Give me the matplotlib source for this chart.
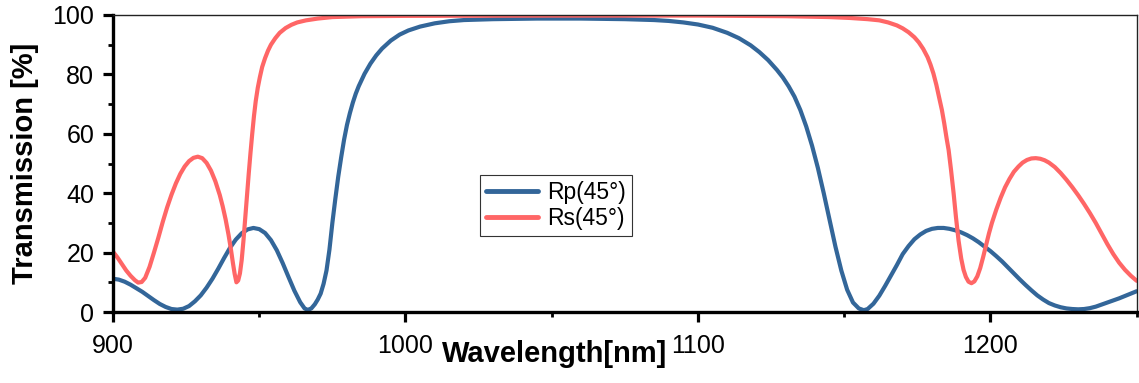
import matplotlib
matplotlib.use("Agg")
import matplotlib.pyplot as plt
from matplotlib.ticker import MultipleLocator

# ---- data ----
wl_p = [900, 902, 904, 906, 908, 910, 912, 914, 916, 918, 920, 922, 924, 926, 928,
        930, 932, 934, 936, 938, 940, 942, 944, 946, 948, 950, 952, 954, 956, 958,
        960, 962, 964, 965.5, 966.6, 967.8, 969, 970, 971, 972, 973, 974, 975, 976,
        977, 978, 979, 980, 981, 982, 983, 984, 986, 988, 990, 992, 995, 998, 1001,
        1005, 1010, 1015, 1020, 1030, 1045, 1060, 1075, 1085, 1090, 1095, 1100, 1105,
        1110, 1114, 1118, 1121, 1124, 1127, 1129, 1131, 1133, 1135, 1137, 1139, 1141,
        1143, 1145, 1147, 1149, 1151, 1153, 1155, 1156.7, 1158, 1160, 1162, 1164,
        1166, 1168, 1170, 1172, 1174, 1176, 1178, 1180, 1182, 1184, 1186, 1188, 1190,
        1192, 1194, 1196, 1198, 1200, 1202, 1204, 1206, 1208, 1210, 1212, 1214, 1216,
        1218, 1220, 1222, 1224, 1226, 1228, 1230, 1232, 1234, 1236, 1238, 1240, 1242,
        1244, 1246, 1248, 1250]
rp_45 = [11.2, 10.9, 10.2, 9.2, 8.0, 6.8, 5.4, 4.0, 2.7, 1.7, 1.0, 0.8, 1.1, 2.0, 3.6,
         5.6, 8.2, 11.2, 14.6, 18.2, 21.6, 24.4, 26.5, 27.8, 28.3, 27.9, 26.6, 24.2, 20.8, 16.5,
         11.8, 7.2, 3.3, 1.2, 0.7, 1.2, 2.6, 4.2, 6.2, 9.5, 14, 21, 30, 38,
         45.5, 52, 58, 63, 67, 70.5, 73.5, 76, 80.2, 83.6, 86.4, 88.7, 91.4, 93.4, 94.8,
         96.1, 97.2, 97.9, 98.3, 98.6, 98.8, 98.8, 98.6, 98.3, 98.0, 97.5, 96.8, 95.7,
         94.0, 92.2, 89.8, 87.5, 84.8, 81.5, 79, 76, 72.5, 68, 62.5, 56, 48.5,
         40, 31, 22, 14, 7.5, 3.2, 1.2, 0.6, 1.0, 2.8, 5.5, 8.8,
         12.3, 15.8, 19.5, 22.2, 24.5, 26.1, 27.3, 28.0, 28.3, 28.3, 28.0, 27.5, 26.8,
         25.9, 24.8, 23.5, 22.0, 20.5, 18.8, 17.0, 15.0, 13.0, 11.0, 9.1, 7.3, 5.6,
         4.2, 3.0, 2.2, 1.6, 1.2, 1.0, 0.9, 1.0, 1.3, 1.8, 2.5, 3.2, 3.9,
         4.6, 5.4, 6.2, 7.0]

wl_s = [900, 901.5, 903, 904.5, 906, 907.5, 908.6, 909.8, 911, 912.5, 914, 915.5, 917,
        918.5, 920, 921.5, 923, 924.5, 926, 927.5, 929, 930.5, 932, 933.5, 935, 936.5,
        937.5, 938.5, 939.5, 940.3, 941, 941.6, 942.2, 942.8, 943.4, 944, 944.6, 945.2,
        945.8, 946.4, 947, 947.6, 948.2, 948.8, 949.5, 950.2, 951, 952, 953, 954, 955.5,
        957, 959, 961, 963, 966, 970, 975, 985, 1000, 1050, 1100, 1130, 1145, 1152,
        1158, 1162, 1165, 1168, 1170, 1172, 1174, 1175.5, 1177, 1178.5, 1179.5, 1180.5,
        1181.5, 1182.5, 1183.4, 1184.2, 1185, 1185.7, 1186.5, 1187.4, 1188.2, 1189.1,
        1190, 1190.8, 1191.6, 1192.5, 1193.5, 1194.5, 1195.5, 1196.5, 1197.5, 1198.5,
        1199.5, 1200.5, 1202, 1203.5, 1205, 1206.5, 1208, 1209.6, 1211, 1212.5, 1214,
        1215.5, 1217, 1218.5, 1220, 1222, 1224, 1226, 1228, 1230, 1232, 1234, 1236,
        1238, 1240, 1242, 1244, 1246, 1248, 1250]
rs_45 = [20.3, 18.4, 16.2, 14.0, 12.2, 10.7, 9.9, 10.1, 11.5, 15.2, 20, 25, 30.3,
         35.2, 39.5, 43.3, 46.5, 49, 50.8, 51.9, 52.3, 51.8, 50.2, 47.6, 44, 39.4,
         35.6, 31.2, 26, 21.2, 16.5, 12.8, 10.0, 10.6, 13, 17.5, 24, 31.5,
         39, 46.5, 53.5, 60, 66, 71, 75.5, 79, 82.5, 85.5, 88, 90, 92.2,
         94, 95.6, 96.7, 97.5, 98.2, 98.8, 99.3, 99.6, 99.7, 99.8, 99.8, 99.6, 99.3, 99.0,
         98.6, 98.2, 97.5, 96.5, 95.5, 94.2, 92.5, 90.8, 88.6, 85.8, 83.3, 80.3,
         76.5, 72, 68, 63.5, 58.5, 54.5, 48, 40, 32, 24,
         18, 14.2, 11.8, 10.2, 9.7, 10.3, 12, 14.8, 18.5, 22.5,
         26.5, 30, 34.5, 38.5, 42, 44.8, 47.2, 49, 50.3, 51.2, 51.7,
         51.8, 51.6, 51.1, 50.3, 48.8, 46.8, 44.5, 42.0, 39.3, 36.4, 33.3, 30,
         26.4, 22.8, 19.5, 16.6, 14.2, 12.2, 10.5]

labels = ["Rp(45°)", "Rs(45°)"]
x_major = [900, 1000, 1100, 1200]

W, H = 1139, 383
plt.rcParams['font.family'] = ['Liberation Sans', 'DejaVu Sans']
fig = plt.figure(figsize=(W / 100, H / 100), dpi=100)
ax = fig.add_axes([113 / W, 1 - 312 / H, (1136.7 - 113) / W, (312 - 15) / H])

blue = '#336699'
red = '#ff6666'
ax.plot(wl_p, rp_45, color=blue, lw=3.0, label=labels[0],
        solid_joinstyle='round', solid_capstyle='round')
ax.plot(wl_s, rs_45, color=red, lw=3.0, label=labels[1],
        solid_joinstyle='round', solid_capstyle='round')

ax.set_xlim(900, 1250)
ax.set_ylim(0, 100)
ax.set_xticks(x_major)
ax.xaxis.set_minor_locator(MultipleLocator(50))
ax.set_yticks([0, 20, 40, 60, 80, 100])
ax.yaxis.set_minor_locator(MultipleLocator(10))

for s in ['left', 'bottom']:
    ax.spines[s].set_linewidth(2.4)
    ax.spines[s].set_color('black')
for s in ['top', 'right']:
    ax.spines[s].set_linewidth(1.0)
    ax.spines[s].set_color('#222222')

ax.tick_params(which='major', direction='out', length=7.5, width=2.3,
               labelsize=18, top=False, right=False)
ax.tick_params(which='minor', direction='out', length=3.8, width=2.0,
               top=False, right=False)
ax.tick_params(axis='y', which='major', pad=6)
ax.tick_params(axis='x', which='major', pad=8)

fig.text(555 / W, 1 - 362 / H, "Wavelength[nm]", ha='center', va='baseline',
         fontsize=21, fontweight='bold')
fig.text(25 / W, 1 - 163.5 / H, "Transmission [%]", ha='center', va='center',
         rotation=90, fontsize=21, fontweight='bold')

leg = ax.legend(loc='lower left', bbox_to_anchor=(480 / W, 1 - 236 / H),
                bbox_transform=fig.transFigure, borderaxespad=0,
                fontsize=16.5, frameon=True, fancybox=False, framealpha=1,
                edgecolor='#333333', handlelength=2.3, handletextpad=0.4,
                labelspacing=0.15, borderpad=0.25)
leg.get_frame().set_linewidth(0.8)
for line in leg.get_lines():
    line.set_linewidth(3.5)

fig.savefig("out.png", dpi=100)
